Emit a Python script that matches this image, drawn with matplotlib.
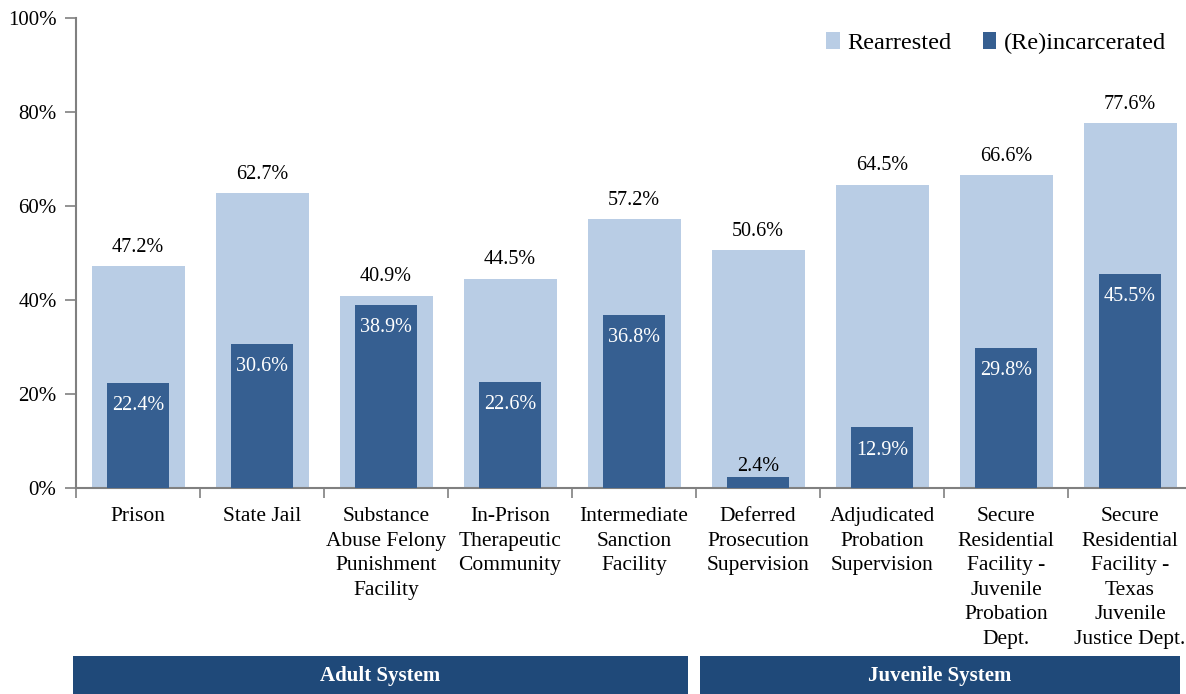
import matplotlib.pyplot as plt
import numpy as np
from matplotlib.patches import Rectangle

categories = [
    "Prison",
    "State Jail",
    "Substance\nAbuse Felony\nPunishment\nFacility",
    "In-Prison\nTherapeutic\nCommunity",
    "Intermediate\nSanction\nFacility",
    "Deferred\nProsecution\nSupervision",
    "Adjudicated\nProbation\nSupervision",
    "Secure\nResidential\nFacility -\nJuvenile\nProbation\nDept.",
    "Secure\nResidential\nFacility -\nTexas\nJuvenile\nJustice Dept.",
]
rearrested = [47.2, 62.7, 40.9, 44.5, 57.2, 50.6, 64.5, 66.6, 77.6]
reincarcerated = [22.4, 30.6, 38.9, 22.6, 36.8, 2.4, 12.9, 29.8, 45.5]
groups = ["Adult System", "Juvenile System"]

light = "#B9CDE5"
dark = "#365F91"
banner = "#1F4979"
axis_gray = "#808080"

plt.rcParams['font.family'] = ['Liberation Serif', 'DejaVu Serif']

W, H = 1186, 694
fig = plt.figure(figsize=(W / 100, H / 100), dpi=100)
ax = fig.add_axes([76 / W, 1 - 488 / H, (1192 - 76) / W, 470 / H])

x = np.arange(len(categories))
ax.bar(x, rearrested, width=0.75, color=light, label="Rearrested", zorder=2)
ax.bar(x, reincarcerated, width=0.5, color=dark, label="(Re)incarcerated", zorder=3)

for xi, r, d in zip(x, rearrested, reincarcerated):
    ax.text(xi, r + 2.0, f"{r:.1f}%", ha="center", va="bottom", fontsize=14.5, color="black")
    if d < 5:
        ax.text(xi, d + 0.2, f"{d:.1f}%", ha="center", va="bottom", fontsize=14.5,
                color="black", zorder=4)
    else:
        ax.text(xi, d - 2.8, f"{d:.1f}%", ha="center", va="top", fontsize=14.5,
                color="white", zorder=4)

ax.set_xlim(-0.5, len(categories) - 0.5)
ax.set_ylim(0, 100)
ax.set_yticks(np.arange(0, 101, 20))
ax.set_yticklabels([f"{v}%" for v in range(0, 101, 20)], fontsize=15)

ax.set_xticks(x)
ax.set_xticklabels(categories, fontsize=15.5, va="top", linespacing=1.39)
ax.tick_params(axis="x", which="major", length=0, pad=14)
ax.set_xticks(np.arange(-0.5, len(categories) - 0.4, 1), minor=True)
ax.tick_params(axis="x", which="minor", length=7, color=axis_gray, width=1.2)
ax.tick_params(axis="y", length=8, color=axis_gray, width=1.2, pad=6)

for side in ("top", "right"):
    ax.spines[side].set_visible(False)
for side in ("left", "bottom"):
    ax.spines[side].set_color(axis_gray)
    ax.spines[side].set_linewidth(1.5)

ax.legend(loc="upper right", bbox_to_anchor=(0.996, 1.017), ncol=2,
          frameon=False, fontsize=17.5, handlelength=0.55, handleheight=0.7,
          handletextpad=0.3, columnspacing=1.3)

# group banners under the category labels (pixel extents)
spans = [(73, 688), (700, 1180)]
for name, (px0, px1) in zip(groups, spans):
    x0, x1 = px0 / W, px1 / W
    h = 38 / H
    fig.patches.append(Rectangle((x0, 0), x1 - x0, h, transform=fig.transFigure,
                                 facecolor=banner, edgecolor="none"))
    fig.text((x0 + x1) / 2, h / 2 - 1 / H, name, ha="center", va="center",
             color="white", fontsize=15, fontweight="bold")

fig.savefig("out.png", dpi=100)
